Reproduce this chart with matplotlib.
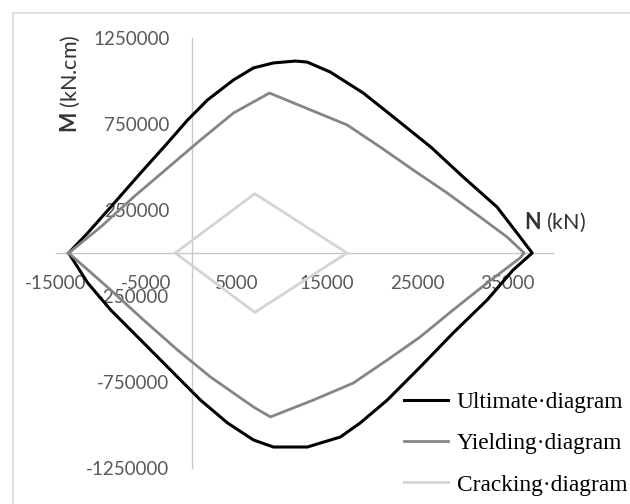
import matplotlib.pyplot as plt
from matplotlib.patches import Rectangle

# Ultimate diagram (upper and lower branch), N in kN, M in kN.cm
ult_n_up = [-13600, -11500, -8950, -5640, -2650, -440, 1770, 4640, 6850, 9060,
            11500, 12800, 15360, 19010, 22760, 26500, 30060, 33810, 36020, 37700]
ult_m_up = [0, 116000, 267000, 465000, 640000, 773000, 890000, 1006000, 1076000, 1105000,
            1116000, 1110000, 1052000, 930000, 773000, 615000, 442000, 267000, 116000, 0]
ult_n_lo = [-13600, -11490, -8950, -5300, -1550, 990, 3980, 6850, 9060, 12820,
            14250, 16460, 18670, 21660, 25300, 28950, 32710, 35580, 37700]
ult_m_lo = [0, -174000, -331000, -523000, -721000, -855000, -988000, -1087000, -1128000, -1128000,
            -1105000, -1070000, -988000, -855000, -663000, -465000, -273000, -99000, 0]

# Yielding diagram
yld_n_up = [-13600, -10060, -6400, -2650, 990, 4640, 8620, 17240, 20880, 24530,
            28290, 31930, 34920, 36800]
yld_m_up = [0, 151000, 326000, 494000, 657000, 814000, 930000, 744000, 616000, 482600,
            348800, 209300, 93000, 0]
yld_n_lo = [-13600, -8950, -5300, -1550, 2100, 6850, 8730, 13480, 17900, 21660,
            25300, 28950, 32710, 36350, 36800]
yld_m_lo = [0, -215000, -390000, -564000, -721000, -895000, -953000, -855000, -756000, -622000,
            -488000, -331000, -174000, -29000, 0]

# Cracking diagram
crk_n = [-1800, 7000, 17200, 7000, -1800]
crk_m = [0, 345000, 0, -345000, 0]

x_ticks = [-15000, -5000, 5000, 15000, 25000, 35000]
y_ticks = [-1250000, -750000, -250000, 250000, 750000, 1250000]

plt.rcParams['mathtext.fontset'] = 'custom'
plt.rcParams['mathtext.bf'] = 'Lato:bold'
plt.rcParams['mathtext.rm'] = 'Lato'

fig = plt.figure(figsize=(6.3, 5.04), dpi=100)
ax = fig.add_axes([56 / 630, 1 - 468 / 504, 497 / 630, 430 / 504])

# borde del area del grafico
fig.add_artist(Rectangle((13 / 630, -0.1), 1.0, 1 - 13 / 504 + 0.1,
                         transform=fig.transFigure, fill=False,
                         edgecolor='#d9d9d9', lw=1.2))

ax.plot(ult_n_up + ult_n_lo[::-1], ult_m_up + ult_m_lo[::-1],
        color='black', lw=2.2, label='Ultimate·diagram')
ax.plot(yld_n_up + yld_n_lo[::-1], yld_m_up + yld_m_lo[::-1],
        color='#858585', lw=2.0, label='Yielding·diagram')
ax.plot(crk_n, crk_m, color='#d4d4d4', lw=2.0, label='Cracking·diagram')

ax.set_xlim(-15000, 40000)
ax.set_ylim(-1250000, 1250000)
ax.set_xticks(x_ticks)
ax.set_yticks(y_ticks)
ax.set_xticklabels([str(v) for v in x_ticks])
ax.set_yticklabels([str(v) for v in y_ticks])

for s in ['top', 'right']:
    ax.spines[s].set_visible(False)
ax.spines['left'].set_position(('data', 0))
ax.spines['bottom'].set_position(('data', 0))
for s in ['left', 'bottom']:
    ax.spines[s].set_color('#c8c8c8')
    ax.spines[s].set_linewidth(1.0)
    ax.spines[s].set_zorder(0)

ax.tick_params(length=0, pad=16, labelcolor='#595959', labelsize=13.5)
for lab in ax.get_xticklabels() + ax.get_yticklabels():
    lab.set_family('Lato')
ax.patch.set_visible(False)

fig.text(70 / 630, 1 - 84 / 504, r'$\mathbf{M}$ (kN.cm)', rotation=90,
         ha='center', va='center', fontsize=15.5, family='Lato', color='#333333')
fig.text(524 / 630, 1 - 222 / 504, r'$\mathbf{N}$ (kN)',
         ha='left', va='center', fontsize=15.5, family='Lato', color='#333333')

ax.legend(loc='upper left', bbox_to_anchor=(404 / 630, 1 - 392 / 504),
          bbox_transform=fig.transFigure, frameon=False,
          prop={'family': 'Liberation Serif', 'size': 16.8},
          handlelength=1.9, handletextpad=0.35, labelspacing=0.85,
          borderaxespad=0, borderpad=0)

fig.savefig('out.png', dpi=100)
